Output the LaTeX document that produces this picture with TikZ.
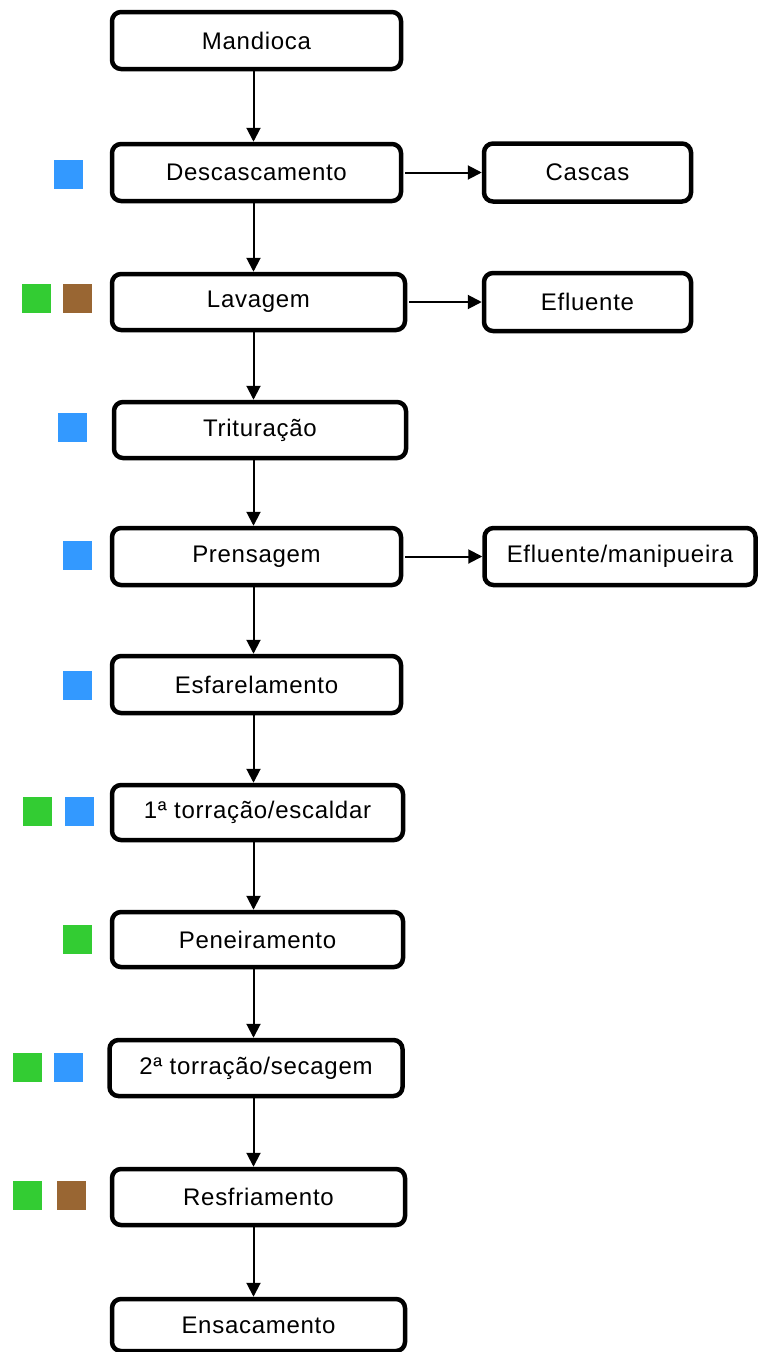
\documentclass[tikz,border=0pt]{standalone}
\usepackage{fontspec}
\setmainfont[LetterSpace=3]{Liberation Sans}
\usetikzlibrary{arrows.meta}
\definecolor{mblue}{RGB}{51,153,255}
\definecolor{mgreen}{RGB}{51,204,51}
\definecolor{mbrown}{RGB}{153,102,51}
\tikzset{
  stepbox/.style={draw=black, line width=4.5pt, rounded corners=9pt, fill=white,
    minimum width=289pt, minimum height=57pt, inner sep=0pt,
    font=\fontsize{24}{28}\selectfont},
  outbox/.style={stepbox, minimum width=207pt, minimum height=58pt},
  flow/.style={draw=black, line width=2pt, -{Triangle[length=14pt,width=14pt]}},
  mark sq/.style={minimum size=29pt, inner sep=0pt, draw=none},
}
\begin{document}
\begin{tikzpicture}[x=1pt,y=-1pt]
\useasboundingbox (0,0) rectangle (759,1352);
\fill[white] (0,0) rectangle (759,1352);
% main column
\node[stepbox] (man) at (256.5,40.5) {Mandioca};
\node[stepbox] (des) at (256.5,172.5) {Descascamento};
\node[stepbox, minimum width=293pt, minimum height=56pt] (lav) at (258.5,302) {Lavagem};
\node[stepbox, minimum width=292pt, minimum height=56pt] (tri) at (260,430) {Trituração};
\node[stepbox] (pre) at (256.5,556.5) {Prensagem};
\node[stepbox] (esf) at (256.5,684.5) {Esfarelamento};
\node[stepbox, minimum width=291pt, minimum height=55pt] (tor1) at (257.5,812.5) {1ª torração/escaldar};
\node[stepbox, minimum width=291pt, minimum height=55pt] (pen) at (257.5,939.5) {Peneiramento};
\node[stepbox, minimum width=293pt, minimum height=56pt] (tor2) at (256,1068) {2ª torração/secagem};
\node[stepbox, minimum width=293pt, minimum height=56pt] (res) at (258.5,1197) {Resfriamento};
\node[stepbox, minimum width=293pt, minimum height=52pt] (ens) at (258.5,1325) {Ensacamento};
% side outputs
\node[outbox] (cas) at (587.5,172.5) {Cascas};
\node[outbox] (efl) at (587.5,302) {Efluente};
\node[outbox, minimum width=271pt, minimum height=57pt] (mnp) at (620,556.5) {Efluente/manipueira};
% connectors
\foreach \a/\b in {man/des, des/lav, lav/tri, tri/pre, pre/esf, esf/tor1, tor1/pen, pen/tor2, tor2/res, res/ens}
  \draw[flow] ([xshift=-3pt]\a.south -| man.south) -- ([xshift=-3pt]\b.north -| man.north);
\draw[flow] ([xshift=2pt]des.east) -- (des.east -| cas.west);
\draw[flow] ([xshift=2pt]lav.east) -- (lav.east -| efl.west);
\draw[flow] ([xshift=2pt]pre.east) -- (pre.east -| mnp.west);
% coloured markers
\node[mark sq, fill=mblue] (q1) at (68,174.5) {};
\node[mark sq, fill=mgreen] (q2a) at (36,298.5) {};
\node[mark sq, fill=mbrown] (q2b) at (77.5,298.5) {};
\node[mark sq, fill=mblue] (q3) at (72,427) {};
\node[mark sq, fill=mblue] (q4) at (77.5,555.5) {};
\node[mark sq, fill=mblue] (q5) at (77.5,685.5) {};
\node[mark sq, fill=mgreen] (q6a) at (37.5,811) {};
\node[mark sq, fill=mblue] (q6b) at (79.5,811) {};
\node[mark sq, fill=mgreen] (q7) at (77.5,939) {};
\node[mark sq, fill=mgreen] (q8a) at (27,1067) {};
\node[mark sq, fill=mblue] (q8b) at (68,1067) {};
\node[mark sq, fill=mgreen] (q9a) at (27,1195) {};
\node[mark sq, fill=mbrown] (q9b) at (71.5,1195) {};
\end{tikzpicture}
\end{document}
